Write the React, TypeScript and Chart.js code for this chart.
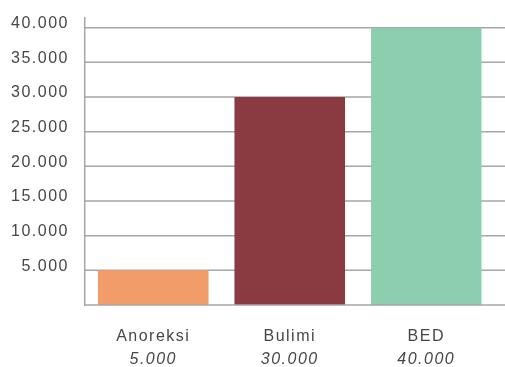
import { useEffect, useRef } from 'react';
import { Chart, registerables } from 'chart.js';

Chart.register(...registerables);

const categories = ['Anoreksi', 'Bulimi', 'BED'];
const values = [5000, 30000, 40000];
const valueLabels = ['5.000', '30.000', '40.000'];
const barColors = ['#F29C6A', '#8A3B42', '#8DCEAF'];
const yTickValues = [0, 5000, 10000, 15000, 20000, 25000, 30000, 35000, 40000];
const yMax = 41400;

const fmt = (v: number) => String(v).replace(/\B(?=(\d{3})+(?!\d))/g, '.');

const FONT = "'Liberation Sans', Arial, Helvetica, sans-serif";
const TEXT = '#474747';
const GRID = '#a6a6a6';

const spacingPlugin = {
  id: 'letterSpacing',
  beforeUpdate(chart: any) { chart.ctx.letterSpacing = '1.5px'; },
  beforeLayout(chart: any) { chart.ctx.letterSpacing = '1.5px'; },
  beforeDraw(chart: any) { chart.ctx.letterSpacing = '1.5px'; },
};

const gridPlugin = {
  id: 'extGrid',
  beforeDatasetsDraw(chart: any) {
    const { ctx, chartArea } = chart;
    const y = chart.scales.y;
    ctx.save();
    ctx.strokeStyle = GRID;
    ctx.lineWidth = 1.5;
    y.ticks.forEach((t: any) => {
      if (t.value === 0) return;
      const py = y.getPixelForValue(t.value);
      ctx.beginPath();
      ctx.moveTo(chartArea.left, py);
      ctx.lineTo(chart.width, py);
      ctx.stroke();
    });
    ctx.restore();
  },
  afterDatasetsDraw(chart: any) {
    const { ctx, chartArea } = chart;
    const y = chart.scales.y;
    const py = y.getPixelForValue(0);
    ctx.save();
    ctx.strokeStyle = GRID;
    ctx.lineWidth = 1.5;
    ctx.beginPath();
    ctx.moveTo(chartArea.left, py);
    ctx.lineTo(chart.width, py);
    ctx.stroke();
    ctx.restore();
  },
};

export default function App() {
  const ref = useRef<HTMLCanvasElement | null>(null);

  useEffect(() => {
    if (!ref.current) return;
    const chart = new Chart(ref.current, {
      type: 'bar',
      data: {
        labels: categories,
        datasets: [
          {
            data: values,
            backgroundColor: barColors,
            borderWidth: 0,
            barPercentage: 0.81,
            categoryPercentage: 1,
          },
        ],
      },
      options: {
        animation: false,
        responsive: false,
        layout: { padding: { top: 18, right: 10.5, left: 0, bottom: 0 } },
        plugins: { legend: { display: false }, tooltip: { enabled: false } },
        scales: {
          x: {
            type: 'category',
            position: 'bottom',
            weight: 0,
            offset: true,
            grid: { display: false, drawTicks: false },
            border: { display: false },
            ticks: {
              padding: 22,
              maxRotation: 0,
              autoSkip: false,
              color: TEXT,
              font: { family: FONT, size: 16, lineHeight: 1.2 },
            },
            afterFit: (s: any) => { s.height = 40; s.paddingLeft = 0; s.paddingRight = 0; },
          },
          x2: {
            type: 'category',
            position: 'bottom',
            weight: 1,
            offset: true,
            labels: categories,
            grid: { display: false, drawTicks: false },
            border: { display: false },
            ticks: {
              padding: 5.4,
              maxRotation: 0,
              autoSkip: false,
              color: TEXT,
              font: { family: FONT, size: 16, style: 'italic', lineHeight: 1.2 },
              callback: (_v: any, i: number) => valueLabels[i],
            },
            afterFit: (s: any) => { s.height = 22; s.paddingLeft = 0; s.paddingRight = 0; },
          },
          y: {
            min: 0,
            max: yMax,
            grid: { display: false, drawTicks: false },
            border: { display: true, color: GRID, width: 1.5 },
            afterBuildTicks: (s: any) => { s.ticks = yTickValues.map((v) => ({ value: v })); },
            ticks: {
              padding: 16,
              labelOffset: -4,
              autoSkip: false,
              color: TEXT,
              font: { family: FONT, size: 16 },
              callback: (v: any) => {
                const n = Number(v);
                return n === 0 ? '' : fmt(n);
              },
            },
            afterFit: (s: any) => { s.width = 85; s.paddingTop = 0; s.paddingBottom = 0; },
          },
        },
      },
      plugins: [spacingPlugin, gridPlugin],
    } as any);
    return () => chart.destroy();
  }, []);

  return (
    <div style={{ position: 'fixed', left: 0, top: 0, width: 505, height: 367, background: '#fff' }}>
      <canvas ref={ref} width={505} height={367} style={{ display: 'block' }} />
    </div>
  );
}
